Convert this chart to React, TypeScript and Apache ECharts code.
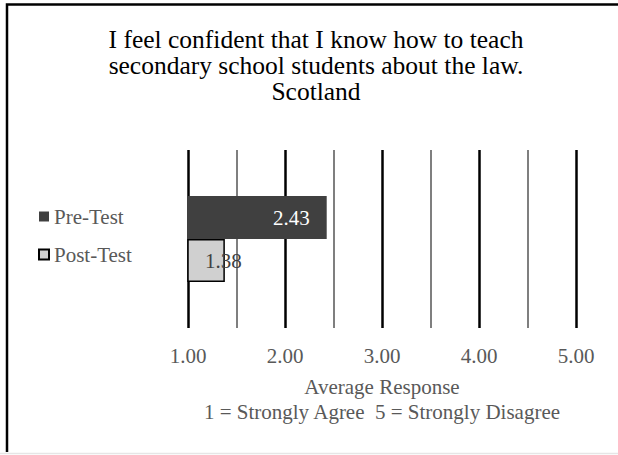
import React, { useEffect, useRef } from "react";
import * as echarts from "echarts";

const categories = ["Scotland"];
const seriesNames = ["Pre-Test", "Post-Test"];
const preTest = [2.43];
const postTest = [1.38];
const xTicks = [1, 2, 3, 4, 5];
const titleLines = [
  "I feel confident that I know how to teach",
  "secondary school students about the law.",
  "Scotland",
];

const FONT = "Liberation Serif, Times New Roman, serif";

export default function App() {
  const ref = useRef<HTMLDivElement>(null);
  useEffect(() => {
    if (!ref.current) return;
    const chart = echarts.init(ref.current, null, { renderer: "svg" });
    chart.setOption({
      animation: false,
      backgroundColor: "#ffffff",
      textStyle: { fontFamily: FONT },
      legend: {
        data: seriesNames,
        orient: "vertical",
        left: 33,
        top: 201,
        itemWidth: 10,
        itemHeight: 10,
        itemGap: 17,
        icon: "rect",
        textStyle: { fontFamily: FONT, fontSize: 21, color: "#595959", lineHeight: 21 },
      },
      grid: { left: 188, right: 42, top: 150, bottom: 127, containLabel: false },
      xAxis: {
        type: "value",
        min: xTicks[0],
        max: xTicks[xTicks.length - 1],
        interval: 1,
        axisLine: { show: false },
        axisTick: { show: false },
        axisLabel: {
          fontFamily: FONT,
          fontSize: 21,
          color: "#595959",
          margin: 17,
          formatter: (v: number) => v.toFixed(2),
        },
        splitLine: { show: true, lineStyle: { color: "#000", width: 2.5 } },
        minorTick: { show: false, splitNumber: 2 },
        minorSplitLine: { show: true, lineStyle: { color: "#7f7f7f", width: 2 } },
        name: "Average Response\n1 = Strongly Agree  5 = Strongly Disagree",
        nameLocation: "middle",
        nameGap: 46,
        nameTextStyle: { fontFamily: FONT, fontSize: 21, color: "#595959", lineHeight: 25 },
      },
      yAxis: {
        type: "category",
        data: categories,
        inverse: true,
        axisLine: { show: false },
        axisTick: { show: false },
        axisLabel: { show: false },
        splitLine: { show: false },
      },
      series: [
        {
          name: seriesNames[0],
          type: "bar",
          data: preTest,
          barWidth: 43,
          barGap: "0%",
          itemStyle: { color: "#404040" },
          label: {
            show: true,
            position: "insideRight",
            distance: 17,
            formatter: (p: any) => p.value.toFixed(2),
            fontFamily: FONT,
            fontSize: 21,
            color: "#ffffff",
          },
        },
        {
          name: seriesNames[1],
          type: "bar",
          data: postTest,
          barWidth: 43,
          barGap: "0%",
          itemStyle: { color: "#d0d0d0", borderColor: "#000", borderWidth: 1.5 },
          label: {
            show: true,
            position: "insideRight",
            distance: 5,
            offset: [22, 0],
            formatter: (p: any) => p.value.toFixed(2),
            fontFamily: FONT,
            fontSize: 21,
            color: "#404040",
          },
        },
      ],
      graphic: [
        {
          type: "text",
          x: 316,
          y: 26,
          silent: true,
          style: {
            text: titleLines.join("\n"),
            textAlign: "center",
            textVerticalAlign: "top",
            fontFamily: FONT,
            fontSize: 25.5,
            lineHeight: 26,
            fill: "#000",
          },
        },
        {
          type: "polyline",
          shape: { points: [[7, 452], [7, 4.5], [620, 4.5]] },
          style: { fill: "none", stroke: "#000", lineWidth: 2.5 },
          silent: true,
          z: 100,
        },
        {
          type: "line",
          shape: { x1: 0, y1: 453.5, x2: 618, y2: 453.5 },
          style: { stroke: "#e6e6e6", lineWidth: 1.5 },
          silent: true,
          z: 101,
        },
      ],
    });
    return () => chart.dispose();
  }, []);
  return (
    <div
      ref={ref}
      style={{ position: "absolute", left: 0, top: 0, width: 618, height: 455 }}
    />
  );
}
